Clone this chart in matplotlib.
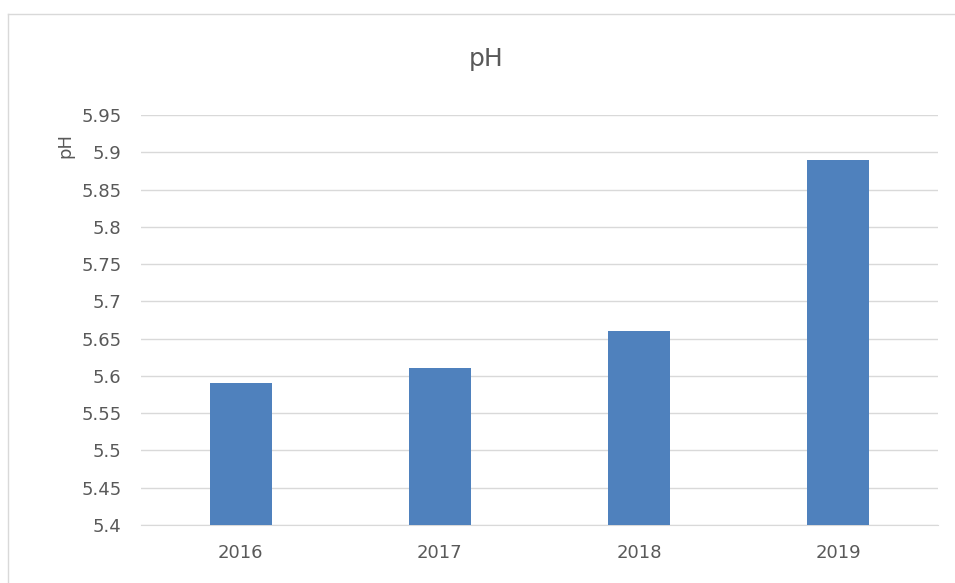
import matplotlib.pyplot as plt
import numpy as np
from matplotlib.lines import Line2D

# data
years = ['2016', '2017', '2018', '2019']
ph_values = [5.59, 5.61, 5.66, 5.89]
y_ticks = [5.4, 5.45, 5.5, 5.55, 5.6, 5.65, 5.7, 5.75, 5.8, 5.85, 5.9, 5.95]
y_tick_labels = ['5.4', '5.45', '5.5', '5.55', '5.6', '5.65', '5.7', '5.75', '5.8', '5.85', '5.9', '5.95']

plt.rcParams['font.family'] = ['DejaVu Sans']
text_color = '#595959'
grid_color = '#d9d9d9'

W, H = 955, 583
fig = plt.figure(figsize=(W / 100, H / 100), dpi=100)
ax = fig.add_axes([141 / W, 1 - 525 / H, (938 - 141) / W, (525 - 115) / H])

x = np.arange(len(years))
ax.bar(x, ph_values, width=0.31, color='#4f81bd', zorder=3)

ax.set_xlim(-0.5, len(years) - 0.5)
ax.set_ylim(5.4, 5.95)
ax.set_yticks(y_ticks)
ax.set_yticklabels(y_tick_labels)
ax.set_xticks(x)
ax.set_xticklabels(years)

ax.grid(True, axis='y', color=grid_color, linewidth=1, zorder=0)
for s in ['top', 'right', 'left']:
    ax.spines[s].set_visible(False)
ax.spines['bottom'].set_color(grid_color)
ax.tick_params(axis='both', length=0, colors=text_color, labelsize=13)
ax.tick_params(axis='y', pad=14)
ax.tick_params(axis='x', pad=14)

fig.text(486 / W, 1 - 59 / H, 'pH', ha='center', va='center', fontsize=18, color=text_color)
fig.text(65 / W, 1 - 146 / H, 'pH', ha='center', va='center', rotation=90, fontsize=13, color=text_color)

# chart border (top and left edges visible)
fig.add_artist(Line2D([8 / W, 1], [1 - 14 / H, 1 - 14 / H], transform=fig.transFigure, color=grid_color, lw=1))
fig.add_artist(Line2D([8 / W, 8 / W], [1 - 14 / H, 0], transform=fig.transFigure, color=grid_color, lw=1))

fig.savefig('out.png', dpi=100)
